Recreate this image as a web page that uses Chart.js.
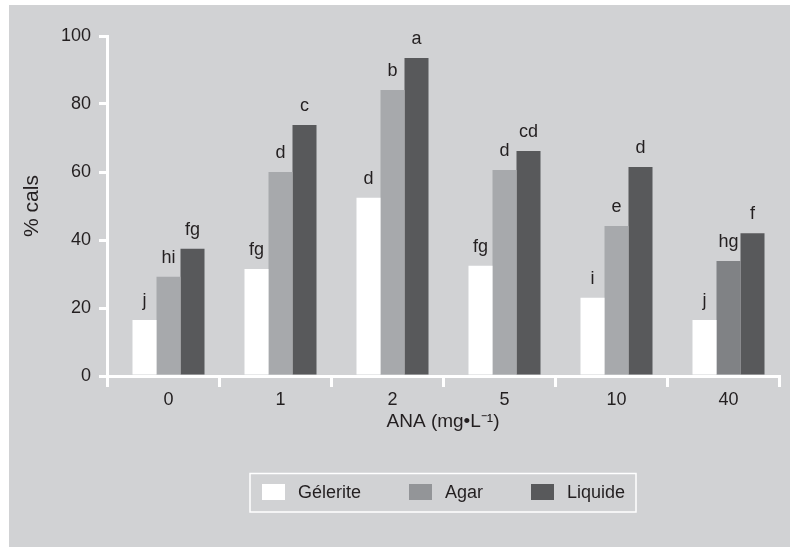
<!DOCTYPE html>
<html>
<head>
<meta charset="utf-8">
<script src="https://cdn.jsdelivr.net/npm/chart.js@4"></script>
<style>
  body { margin: 0; background: #ffffff; }
  #wrap { width: 790px; height: 547px; position: relative; }
</style>
</head>
<body>
<div id="wrap"><canvas id="chart"></canvas></div>
<script>
// Data (% cals by ANA concentration)
const categories = ['0', '1', '2', '5', '10', '40'];
const gelerite = [16.5, 31.5, 52.4, 32.4, 23, 16.5];
const agar = [29.2, 60, 84.1, 60.6, 44.1, 33.8];
const liquide = [37.4, 73.8, 93.5, 66.2, 61.5, 42];

// Letters of significance above each bar
const gelLetters = ['j', 'fg', 'd', 'fg', 'i', 'j'];
const agarLetters = ['hi', 'd', 'b', 'd', 'e', 'hg'];
const liqLetters = ['fg', 'c', 'a', 'cd', 'd', 'f'];

const yTicks = [0, 20, 40, 60, 80, 100];

const FONT = '"Liberation Sans", Arial, sans-serif';
const TEXT = '#231f20';
const BAR_SHIFT = 5.5; // bars and labels sit slightly right of the category centre

// Grey panel behind everything
const panelPlugin = {
    id: 'panel',
    beforeDraw(chart) {
        const ctx = chart.ctx;
        ctx.save();
        ctx.fillStyle = '#ffffff';
        ctx.fillRect(0, 0, chart.width, chart.height);
        ctx.fillStyle = '#d1d2d4';
        ctx.fillRect(9, 5, chart.width - 9, chart.height - 5);
        ctx.restore();
    }
};

// Shift bars a few pixels to the right, then write the letters on top
const barPlugin = {
    id: 'barShift',
    beforeDatasetsDraw(chart) {
        chart.ctx.save();
        chart.ctx.translate(BAR_SHIFT, 0);
    },
    afterDatasetsDraw(chart) {
        const ctx = chart.ctx;
        ctx.restore();
        const letters = [gelLetters, agarLetters, liqLetters];
        ctx.save();
        ctx.font = '18px ' + FONT;
        ctx.fillStyle = TEXT;
        ctx.textAlign = 'center';
        ctx.textBaseline = 'alphabetic';
        chart.data.datasets.forEach((ds, i) => {
            const meta = chart.getDatasetMeta(i);
            meta.data.forEach((bar, j) => {
                ctx.fillText(letters[i][j], bar.x + BAR_SHIFT, bar.y - 14);
            });
        });
        ctx.restore();
    }
};

// Boxed legend under the axis title
const legendPlugin = {
    id: 'boxLegend',
    afterDraw(chart) {
        const ctx = chart.ctx;
        ctx.save();
        ctx.strokeStyle = '#ffffff';
        ctx.lineWidth = 1.5;
        ctx.strokeRect(250, 473.5, 386, 38.5);
        const items = [
            { text: 'Gélerite', color: '#ffffff', x: 262 },
            { text: 'Agar', color: '#939598', x: 409 },
            { text: 'Liquide', color: '#58595b', x: 531 }
        ];
        ctx.font = '18px ' + FONT;
        ctx.textBaseline = 'middle';
        ctx.textAlign = 'left';
        items.forEach(item => {
            ctx.fillStyle = item.color;
            ctx.fillRect(item.x, 484, 23, 16);
            ctx.fillStyle = TEXT;
            ctx.fillText(item.text, item.x + 36, 493);
        });
        ctx.restore();
    }
};

const ctx = document.getElementById('chart').getContext('2d');
const chart = new Chart(ctx, {
    type: 'bar',
    data: {
        labels: categories,
        datasets: [
            { label: 'Gélerite', data: gelerite, backgroundColor: '#ffffff' },
            { label: 'Agar', data: agar, backgroundColor: ['#a7a9ac', '#a7a9ac', '#a7a9ac', '#a7a9ac', '#a7a9ac', '#808285'] },
            { label: 'Liquide', data: liquide, backgroundColor: '#58595b' }
        ]
    },
    options: {
        responsive: true,
        maintainAspectRatio: false,
        animation: false,
        devicePixelRatio: 1,
        layout: { padding: { top: 36, right: 11, left: 0, bottom: 0 } },
        datasets: {
            bar: { categoryPercentage: 0.643, barPercentage: 1, borderWidth: 0 }
        },
        plugins: {
            legend: { display: false },
            tooltip: { enabled: false }
        },
        scales: {
            x: {
                grid: {
                    drawOnChartArea: false,
                    drawTicks: true,
                    tickLength: 11,
                    color: '#ffffff',
                    lineWidth: 3,
                    z: 1
                },
                border: { color: '#ffffff', width: 3, z: 1 },
                ticks: {
                    color: TEXT,
                    font: { family: FONT, size: 18 },
                    padding: 2,
                    labelOffset: BAR_SHIFT
                },
                title: {
                    display: true,
                    text: 'ANA (mg•L⁻¹)',
                    color: TEXT,
                    font: { family: FONT, size: 19 },
                    padding: { top: 0, bottom: 114 }
                },
                afterFit(scale) { scale.height = 171; }
            },
            y: {
                min: 0,
                max: 100,
                afterBuildTicks(scale) { scale.ticks = yTicks.map(v => ({ value: v })); },
                grid: {
                    drawOnChartArea: false,
                    drawTicks: true,
                    tickLength: 8,
                    color: '#ffffff',
                    lineWidth: 3,
                    z: 1
                },
                border: { color: '#ffffff', width: 3, z: 1 },
                ticks: {
                    color: TEXT,
                    font: { family: FONT, size: 18 },
                    padding: 8
                },
                title: {
                    display: true,
                    text: '% cals',
                    color: TEXT,
                    font: { family: FONT, size: 21 },
                    padding: { top: 20, bottom: 0 }
                },
                afterFit(scale) { scale.width = 107; }
            }
        }
    },
    plugins: [panelPlugin, barPlugin, legendPlugin]
});
</script>
</body>
</html>
